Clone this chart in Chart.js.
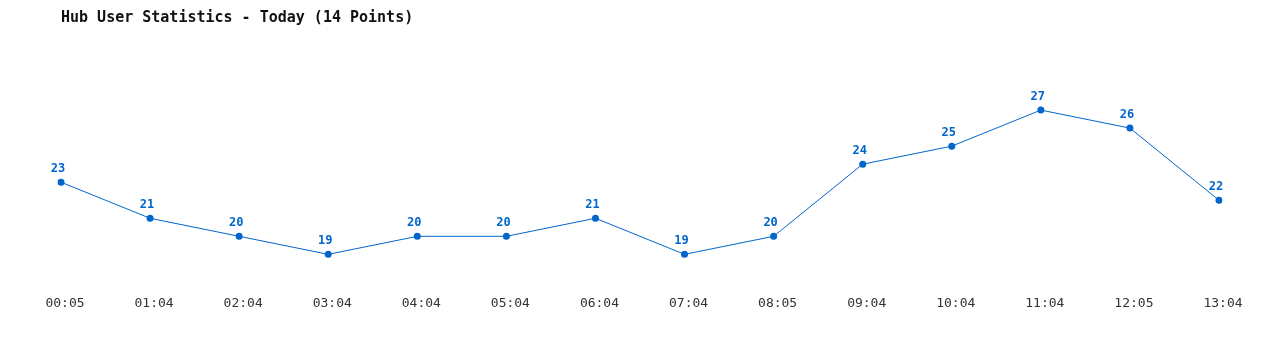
<!DOCTYPE html>
<html>
<head>
<meta charset="utf-8">
<script src="https://cdn.jsdelivr.net/npm/chart.js@4/dist/chart.umd.min.js"></script>
<style>
  html, body { margin: 0; padding: 0; background: #fff; }
  #wrap { width: 1280px; height: 350px; }
</style>
</head>
<body>
<div id="wrap"><canvas id="chart"></canvas></div>
<script>
const times = ["00:05", "01:04", "02:04", "03:04", "04:04", "05:04", "06:04",
               "07:04", "08:05", "09:04", "10:04", "11:04", "12:05", "13:04"];
const users = [23, 21, 20, 19, 20, 20, 21, 19, 20, 24, 25, 27, 26, 22];

const blue = "#0066cc";
const mono = "'DejaVu Sans Mono', 'Liberation Mono', monospace";

// value above each point
const pointLabels = {
    id: "pointLabels",
    afterDatasetsDraw(c) {
        const ctx = c.ctx;
        const meta = c.getDatasetMeta(0);
        ctx.save();
        ctx.font = "bold 12px " + mono;
        ctx.fillStyle = blue;
        ctx.textAlign = "center";
        ctx.textBaseline = "middle";
        meta.data.forEach((pt, i) => {
            ctx.fillText(String(c.data.datasets[0].data[i]), pt.x - 3, pt.y - 13);
        });
        ctx.restore();
    },
};

new Chart(document.querySelector("#chart").getContext("2d"), {
    type: "line",
    data: {
        labels: times,
        datasets: [
            {
                label: "Users",
                data: users,
                borderColor: blue,
                backgroundColor: blue,
                borderWidth: 1,
                pointRadius: 3.5,
                pointHoverRadius: 3.5,
                pointBorderWidth: 0,
                tension: 0,
            },
        ],
    },
    options: {
        responsive: true,
        maintainAspectRatio: false,
        animation: false,
        layout: { padding: { left: 61, right: 61, top: 0, bottom: 34 } },
        plugins: {
            legend: { display: false },
            tooltip: { enabled: false },
            title: {
                display: true,
                text: "Hub User Statistics - Today (14 Points)",
                align: "start",
                color: "#111",
                font: { family: mono, size: 15, weight: "bold" },
                padding: { top: 9, bottom: 29 },
            },
        },
        scales: {
            x: {
                offset: false,
                grid: { display: false, drawTicks: false },
                border: { display: false },
                ticks: {
                    color: "#333",
                    font: { family: mono, size: 13 },
                    padding: 5,
                    labelOffset: 4,
                    maxRotation: 0,
                    autoSkip: false,
                },
            },
            y: {
                display: false,
                min: 17,
                max: 30,
            },
        },
    },
    plugins: [pointLabels],
});
</script>
</body>
</html>
